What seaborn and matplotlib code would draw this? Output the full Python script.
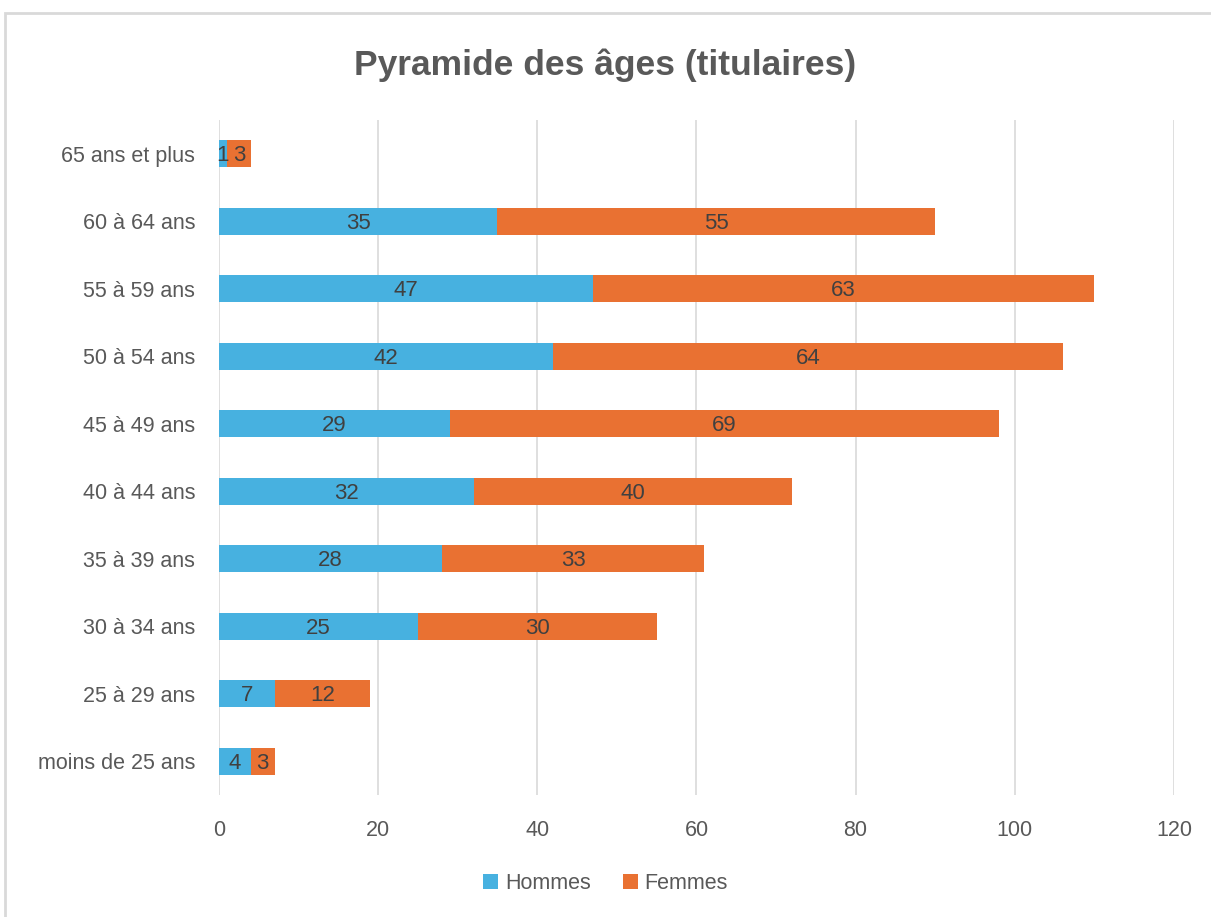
import numpy as np
import pandas as pd
import matplotlib
matplotlib.use("Agg")
import matplotlib.pyplot as plt
import seaborn as sns
from matplotlib.patches import Rectangle

# ================= DATA =================
categories = ["65 ans et plus", "60 à 64 ans", "55 à 59 ans", "50 à 54 ans", "45 à 49 ans",
              "40 à 44 ans", "35 à 39 ans", "30 à 34 ans", "25 à 29 ans", "moins de 25 ans"]
hommes = [1, 35, 47, 42, 29, 32, 28, 25, 7, 4]
femmes = [3, 55, 63, 64, 69, 40, 33, 30, 12, 3]
xticks = [0, 20, 40, 60, 80, 100, 120]

blue = "#47B1E0"
orange = "#E97132"
grey = "#595959"

df = pd.DataFrame({"age": categories, "Hommes": hommes, "Femmes": femmes})
df["total"] = df["Hommes"] + df["Femmes"]

sns.set_style("white")
plt.rcParams['font.family'] = ['Liberation Sans', 'DejaVu Sans']

fig = plt.figure(figsize=(12.11, 9.17), dpi=100)
ax = fig.add_axes([0.1808, 0.133, 0.7886, 0.7361])

# stacked: total in orange underneath, hommes in blue on top
sns.barplot(data=df, x="total", y="age", color=orange, width=0.4, ax=ax,
            saturation=1, label="Femmes", linewidth=0, zorder=3)
sns.barplot(data=df, x="Hommes", y="age", color=blue, width=0.4, ax=ax,
            saturation=1, label="Hommes", linewidth=0, zorder=3)
handles, labels = ax.get_legend_handles_labels()
if ax.get_legend() is not None:
    ax.get_legend().remove()

for i, (h, f) in enumerate(zip(hommes, femmes)):
    ax.text(h / 2, i + 0.03, str(h), ha="center", va="center", fontsize=16, color="#404040", zorder=4)
    ax.text(h + f / 2, i + 0.03, str(f), ha="center", va="center", fontsize=16, color="#404040", zorder=4)

ax.set_xlim(0, 120)
ax.set_ylim(9.5, -0.5)
ax.set_xticks(xticks)
ax.set_xticklabels([str(t) for t in xticks])
ax.grid(axis="x", color="#D9D9D9", linewidth=1.2, zorder=0)
ax.set_axisbelow(True)
for s in ax.spines.values():
    s.set_visible(False)
ax.set_xlabel("")
ax.set_ylabel("")
ax.tick_params(axis="both", length=0, labelsize=15.5, colors=grey)
ax.tick_params(axis="x", pad=18)
ax.tick_params(axis="y", pad=17)

order = [labels.index("Hommes"), labels.index("Femmes")]
leg = fig.legend([handles[k] for k in order], [labels[k] for k in order],
                 loc="center", bbox_to_anchor=(0.5, 0.036), ncol=2, frameon=False,
                 fontsize=15.5, handlelength=0.7, handleheight=0.7, handletextpad=0.3,
                 columnspacing=1.5)
for t in leg.get_texts():
    t.set_color(grey)

fig.text(0.5, 0.929, "Pyramide des âges (titulaires)", ha="center", va="center",
         fontsize=25.5, fontweight="bold", color=grey)

# chart frame
fig.patches.append(Rectangle((5 / 1211, -0.05), 1.1, 1 - 13 / 917 + 0.05,
                             transform=fig.transFigure, fill=False,
                             edgecolor="#D9D9D9", linewidth=2))

fig.savefig("out.png", dpi=100)
